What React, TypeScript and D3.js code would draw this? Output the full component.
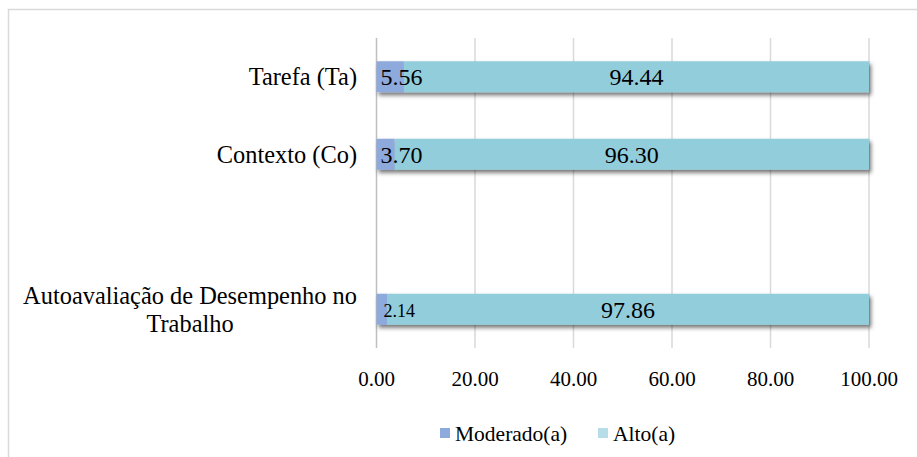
import React, { useLayoutEffect, useRef, useState } from "react";
import * as d3 from "d3";

// Categories top to bottom; the empty string is a spacer row
const categories = ["Tarefa (Ta)", "Contexto (Co)", "", "Autoavaliação de Desempenho no\nTrabalho"];
const moderado = [5.56, 3.7, null, 2.14];
const alto = [94.44, 96.3, null, 97.86];
const ticks = [0, 20, 40, 60, 80, 100];
const seriesNames = ["Moderado(a)", "Alto(a)"];

const W = 917;
const H = 457;
const FONT = "'Liberation Serif', 'Times New Roman', serif";
const C_MOD = "#8EA9DB";
const C_ALTO = "#92CDDC";
const C_ALTO_KEY = "#B7DEE8";
const LABEL_RIGHT = 357;
const CAT_SIZE = 24.4;

// A right-aligned category label whose extra lines are centred under the widest line
function CategoryLabel({ text, cy }: { text: string; cy: number }) {
  const lines = text.split("\n");
  const ref = useRef<SVGTextElement>(null);
  const [width, setWidth] = useState(0);
  useLayoutEffect(() => {
    if (!ref.current) return;
    const spans = Array.from(ref.current.querySelectorAll("tspan")) as SVGTextContentElement[];
    setWidth(Math.max(...spans.map((s) => s.getComputedTextLength())));
  }, [text]);
  const lh = 28;
  const centre = LABEL_RIGHT - width / 2;
  return (
    <text
      ref={ref}
      fontFamily={FONT}
      fontSize={CAT_SIZE}
      textAnchor={lines.length > 1 ? "middle" : "end"}
      fill="#000"
    >
      {lines.map((ln, j) => (
        <tspan key={j} x={lines.length > 1 ? centre : LABEL_RIGHT} y={cy + (j - (lines.length - 1) / 2) * lh} dy="0.35em">
          {ln}
        </tspan>
      ))}
    </text>
  );
}

export default function App() {
  const x = d3.scaleLinear().domain([0, 100]).range([376.5, 869]);
  const y = d3
    .scaleBand()
    .domain(categories.map((_, i) => String(i)))
    .range([38, 348])
    .paddingInner(0.6)
    .paddingOuter(0.3);
  const bw = y.bandwidth();

  return (
    <svg width={W} height={H} style={{ position: "absolute", left: 0, top: 0, background: "#fff" }} fontFamily={FONT}>
      <defs>
        <filter id="barShadow" x="-5%" y="-30%" width="115%" height="180%">
          <feDropShadow dx="2" dy="3" stdDeviation="2" floodColor="#000" floodOpacity="0.55" />
        </filter>
      </defs>
      <rect x={8.5} y={9.5} width={W + 10} height={H + 10} fill="#fff" stroke="#d9d9d9" strokeWidth={1.5} />

      {/* vertical gridlines */}
      {ticks.slice(1).map((t) => (
        <line key={t} x1={x(t)} x2={x(t)} y1={38} y2={348} stroke="#d9d9d9" strokeWidth={1.5} />
      ))}
      <line x1={x(0)} x2={x(0)} y1={38} y2={348} stroke="#bfbfbf" strokeWidth={1.5} />

      {/* stacked bars */}
      <g filter="url(#barShadow)">
        {categories.map((c, i) => {
          const m = moderado[i];
          const a = alto[i];
          if (m == null || a == null) return null;
          const y0 = y(String(i))!;
          return (
            <g key={i}>
              <rect x={x(0)} y={y0} width={x(m) - x(0)} height={bw} fill={C_MOD} />
              <rect x={x(m)} y={y0} width={x(m + a) - x(m)} height={bw} fill={C_ALTO} />
            </g>
          );
        })}
      </g>

      {/* data labels */}
      {categories.map((c, i) => {
        const m = moderado[i];
        const a = alto[i];
        if (m == null || a == null) return null;
        const cy = y(String(i))! + bw / 2;
        const small = m < 3;
        return (
          <g key={i} fill="#000">
            <text x={x(0) + (small ? 7 : 4)} y={cy + (small ? 1 : 0)} dy="0.35em" fontFamily={FONT} fontSize={small ? 18 : 24}>
              {m.toFixed(2)}
            </text>
            <text x={(x(m) + x(m + a)) / 2} y={cy} dy="0.35em" fontFamily={FONT} fontSize={24} textAnchor="middle">
              {a.toFixed(2)}
            </text>
          </g>
        );
      })}

      {/* category labels */}
      {categories.map((c, i) =>
        c ? <CategoryLabel key={i} text={c} cy={y(String(i))! + bw / 2} /> : null
      )}

      {/* x tick labels */}
      {ticks.map((t) => (
        <text key={t} x={x(t)} y={386} fontFamily={FONT} fontSize={21} textAnchor="middle" fill="#000">
          {t.toFixed(2)}
        </text>
      ))}

      {/* legend */}
      <g fill="#000">
        <rect x={440} y={428} width={10} height={10} fill={C_MOD} />
        <text x={455} y={441} fontFamily={FONT} fontSize={21.5}>{seriesNames[0]}</text>
        <rect x={598} y={428} width={10} height={10} fill={C_ALTO_KEY} />
        <text x={613} y={441} fontFamily={FONT} fontSize={21.5}>{seriesNames[1]}</text>
      </g>
    </svg>
  );
}
